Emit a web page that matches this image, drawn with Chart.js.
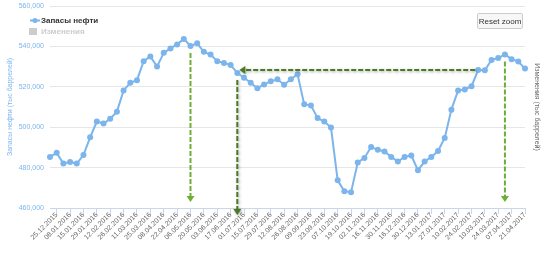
<!DOCTYPE html>
<html>
<head>
<meta charset="utf-8">
<script src="https://cdn.jsdelivr.net/npm/chart.js@4.4.1/dist/chart.umd.min.js"></script>
<style>
  body { margin: 0; background: #fff; }
  #wrap { position: relative; width: 550px; height: 256px; }
  #resetBtn {
    position: absolute; left: 477px; top: 13px; width: 46px; height: 16px;
    padding: 0; font: 8px "Liberation Sans", Arial, sans-serif; color: #333;
    background: #f7f7f7; border: 1px solid #cccccc; border-radius: 2px;
  }
</style>
</head>
<body>
<div id="wrap">
  <canvas id="myChart" width="550" height="256"></canvas>
  <button id="resetBtn">Reset zoom</button>
</div>
<script>
// weekly dates, every second one is shown on the axis
const dates = [
  '18.12.2015', '25.12.2015', '31.12.2015', '08.01.2016', '13.01.2016', '15.01.2016',
  '22.01.2016', '29.01.2016', '05.02.2016', '12.02.2016', '19.02.2016', '26.02.2016',
  '04.03.2016', '11.03.2016', '18.03.2016', '25.03.2016', '01.04.2016', '08.04.2016',
  '15.04.2016', '22.04.2016', '29.04.2016', '06.05.2016', '13.05.2016', '20.05.2016',
  '27.05.2016', '03.06.2016', '10.06.2016', '17.06.2016', '24.06.2016', '01.07.2016',
  '08.07.2016', '15.07.2016', '22.07.2016', '29.07.2016', '05.08.2016', '12.08.2016',
  '19.08.2016', '26.08.2016', '02.09.2016', '09.09.2016', '16.09.2016', '23.09.2016',
  '30.09.2016', '07.10.2016', '14.10.2016', '19.10.2016', '26.10.2016', '02.11.2016',
  '09.11.2016', '16.11.2016', '23.11.2016', '30.11.2016', '07.12.2016', '16.12.2016',
  '23.12.2016', '30.12.2016', '06.01.2017', '13.01.2017', '20.01.2017', '27.01.2017',
  '03.02.2017', '10.02.2017', '17.02.2017', '24.02.2017', '03.03.2017', '10.03.2017',
  '17.03.2017', '24.03.2017', '31.03.2017', '07.04.2017', '14.04.2017', '21.04.2017'
];

// Запасы нефти, тыс баррелей
const stocks = [
  485300, 487300, 482000, 482800, 482000, 486200, 495000, 502800, 501800, 504200,
  507700, 518200, 522000, 523300, 532700, 535000, 530000, 536800, 539000, 541000,
  543700, 540200, 541500, 537300, 536000, 532700, 531800, 530800, 526800, 524500,
  522000, 519300, 521200, 522700, 523700, 521000, 523700, 526200, 511300, 510800,
  504500, 502800, 499800, 473700, 468300, 467800, 482500, 484800, 490200, 488800,
  488000, 485300, 483000, 485300, 486000, 478700, 483000, 485300, 488200, 494700,
  508700, 518200, 518700, 520300, 528300, 528200, 533300, 534200, 536000, 533700,
  532500, 529000
];

const yTicks = [460000, 480000, 500000, 520000, 540000, 560000];

// green arrows drawn on top
const downArrows = [
  { idx: 21, color: '#6fae35', dark: false },
  { idx: 28, color: '#4a7a22', dark: true },
  { idx: 68, color: '#6fae35', dark: false }
];
const levelArrow = { from: 64, to: 28 };

const fontFamily = '"Liberation Sans", Arial, sans-serif';

const arrowPlugin = {
    id: 'arrows',
    afterDatasetsDraw(chart) {
        const ctx = chart.ctx;
        const x = chart.scales.x;
        const y = chart.scales.y;
        const bottom = chart.chartArea.bottom;

        function head(px, py, dir, color) {
            ctx.setLineDash([]);
            ctx.fillStyle = color;
            ctx.beginPath();
            if (dir === 'down') {
                ctx.moveTo(px - 4, py - 6);
                ctx.lineTo(px + 4, py - 6);
                ctx.lineTo(px, py);
            } else {
                ctx.moveTo(px + 6, py - 4);
                ctx.lineTo(px + 6, py + 4);
                ctx.lineTo(px, py);
            }
            ctx.closePath();
            ctx.fill();
        }

        ctx.save();
        ctx.lineWidth = 2;
        downArrows.forEach(function(a) {
            const px = x.getPixelForValue(a.idx);
            const py = y.getPixelForValue(stocks[a.idx]) + 7;
            const tip = a.dark ? bottom + 7 : bottom - 6;
            ctx.save();
            if (a.dark) {
                ctx.shadowColor = 'rgba(0,0,0,0.35)';
                ctx.shadowBlur = 3;
                ctx.shadowOffsetX = 1;
                ctx.shadowOffsetY = 1;
            }
            ctx.strokeStyle = a.color;
            ctx.setLineDash([5, 2]);
            ctx.beginPath();
            ctx.moveTo(px, py);
            ctx.lineTo(px, tip - 5);
            ctx.stroke();
            head(px, tip, 'down', a.color);
            ctx.restore();
        });

        // horizontal level line
        const hy = y.getPixelForValue(stocks[levelArrow.from]);
        const x1 = x.getPixelForValue(levelArrow.from) - 3;
        const x0 = x.getPixelForValue(levelArrow.to) + 2;
        ctx.save();
        ctx.shadowColor = 'rgba(0,0,0,0.35)';
        ctx.shadowBlur = 3;
        ctx.shadowOffsetX = 1;
        ctx.shadowOffsetY = 1;
        ctx.strokeStyle = '#4a7a22';
        ctx.setLineDash([5, 2]);
        ctx.beginPath();
        ctx.moveTo(x1, hy);
        ctx.lineTo(x0 + 5, hy);
        ctx.stroke();
        head(x0, hy, 'left', '#4a7a22');
        ctx.restore();
        ctx.restore();
    }
};

const legendPlugin = {
    id: 'ownLegend',
    afterDraw(chart) {
        const ctx = chart.ctx;
        ctx.save();
        ctx.strokeStyle = '#7cb5ec';
        ctx.lineWidth = 2;
        ctx.beginPath();
        ctx.moveTo(30, 20.5);
        ctx.lineTo(40, 20.5);
        ctx.stroke();
        ctx.fillStyle = '#7cb5ec';
        ctx.beginPath();
        ctx.arc(35, 20.5, 2.5, 0, Math.PI * 2);
        ctx.fill();
        ctx.font = 'bold 8px ' + fontFamily;
        ctx.fillStyle = '#333333';
        ctx.textBaseline = 'middle';
        ctx.fillText('Запасы нефти', 41, 21);

        ctx.fillStyle = '#cccccc';
        ctx.fillRect(29, 28, 8, 7);
        ctx.font = 'bold 8px ' + fontFamily;
        ctx.fillText('Изменения', 41, 32);
        ctx.restore();
    }
};

const ctx = document.getElementById('myChart').getContext('2d');
let myChart = new Chart(ctx, {
    type: 'line',
    data: {
        labels: dates,
        datasets: [{
            label: 'Запасы нефти',
            data: stocks,
            yAxisID: 'y',
            borderColor: '#7cb5ec',
            backgroundColor: '#7cb5ec',
            borderWidth: 2,
            pointRadius: 3,
            pointHoverRadius: 3,
            pointBorderWidth: 0,
            tension: 0
        }]
    },
    options: {
        responsive: false,
        animation: false,
        devicePixelRatio: 1,
        layout: { padding: { top: 6, left: 0, right: 0, bottom: 0 } },
        plugins: {
            legend: { display: false },
            tooltip: { enabled: false }
        },
        scales: {
            x: {
                offset: false,
                border: { color: '#ccd6eb' },
                grid: {
                    drawOnChartArea: false,
                    color: '#ccd6eb',
                    tickLength: 6
                },
                ticks: {
                    autoSkip: false,
                    maxRotation: 45,
                    minRotation: 45,
                    padding: -3,
                    color: '#666666',
                    font: { family: fontFamily, size: 7 },
                    callback: function(value, index) {
                        return index % 2 === 1 ? this.getLabelForValue(value) : null;
                    }
                },
                afterFit: function(scale) { scale.height = 48; }
            },
            y: {
                position: 'left',
                min: yTicks[0],
                max: yTicks[yTicks.length - 1],
                border: { display: false },
                grid: {
                    color: '#e6e6e6',
                    drawTicks: true,
                    tickLength: 6,
                    tickColor: 'rgba(0,0,0,0)'
                },
                afterBuildTicks: function(scale) {
                    scale.ticks = yTicks.map(v => ({ value: v }));
                },
                ticks: {
                    padding: 0,
                    color: '#7cb5ec',
                    font: { family: fontFamily, size: 7 }
                },
                title: {
                    display: true,
                    text: 'Запасы нефти (тыс баррелей)',
                    color: '#7cb5ec',
                    font: { family: fontFamily, size: 7 },
                    padding: { top: 6, bottom: 0 }
                },
                afterFit: function(scale) { scale.width = 50; }
            },
            y1: {
                position: 'right',
                border: { display: false },
                grid: { display: false },
                ticks: { display: false },
                title: {
                    display: true,
                    text: 'Изменения (тыс баррелей)',
                    color: '#666666',
                    font: { family: fontFamily, size: 7 },
                    padding: { top: 9, bottom: 0 }
                },
                afterFit: function(scale) { scale.width = 25; }
            }
        }
    },
    plugins: [arrowPlugin, legendPlugin]
});
</script>
</body>
</html>
